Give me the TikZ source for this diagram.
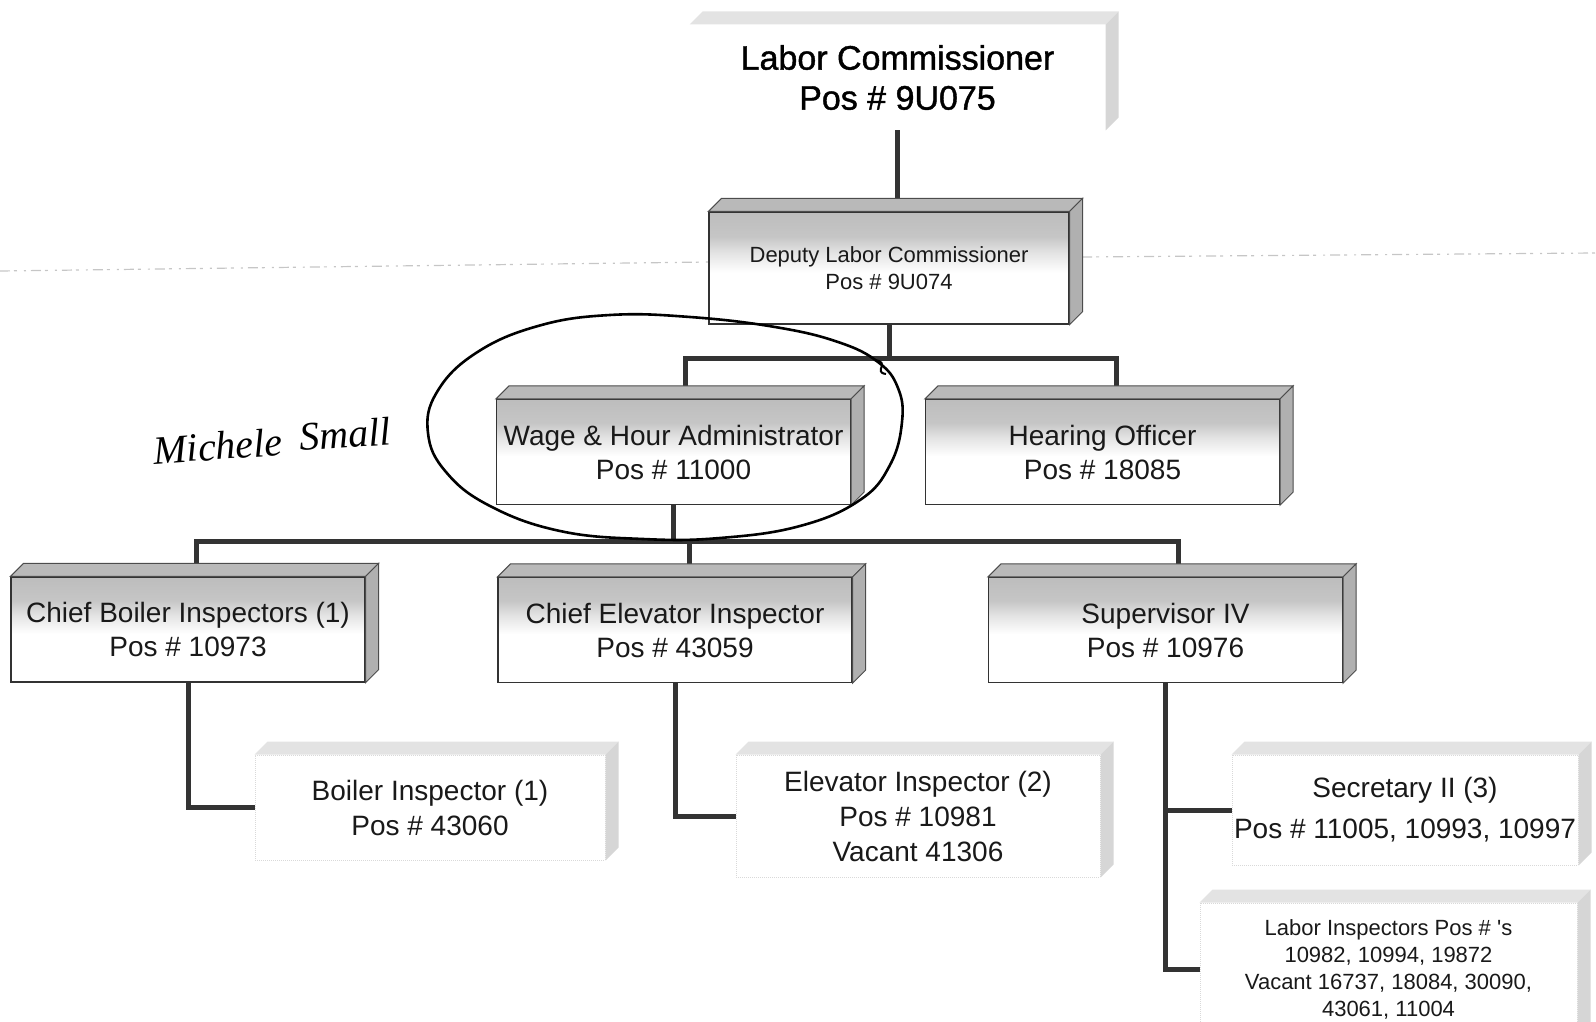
\documentclass[tikz,border=0pt]{standalone}
\usepackage{fontspec}
\setmainfont{Liberation Sans}
\newfontfamily\heavyfont{Liberation Sans}[FakeBold=1.2]
\newfontfamily\handfont{Liberation Serif}
\usetikzlibrary{calc}
\pgfdeclarelayer{bg}
\pgfsetlayers{bg,main}
\pgfdeclareverticalshading{frontshade}{100bp}{color(0bp)=(white); color(25bp)=(white); color(48bp)=(white); color(57bp)=(gray!22); color(64bp)=(gray!45); color(75bp)=(gray!52); color(100bp)=(gray!52)}
\newcommand{\deepfaces}[3]{%
  \filldraw[fill=#2, draw=black!70, line width=1pt] (#1.north west) -- ++(13,13) -- ($(#1.north east)+(13,13)$) -- (#1.north east) -- cycle;
  \filldraw[fill=#3, draw=black!70, line width=1pt] (#1.north east) -- ++(13,13) -- ($(#1.south east)+(13,13)$) -- (#1.south east) -- cycle;}
\newcommand{\palefaces}[1]{%
  \fill[gray!22] (#1.north west) -- ++(13,13) -- ($(#1.north east)+(13,13)$) -- (#1.north east) -- cycle;
  \fill[gray!32] (#1.north east) -- ++(13,13) -- ($(#1.south east)+(13,13)$) -- (#1.south east) -- cycle;}
\begin{document}
\begin{tikzpicture}[x=1pt,y=1pt,
  conn/.style={line width=5pt, draw=black!80},
  dbox/.style={draw=black!80, line width=1.2pt, shade, shading=frontshade, align=center, inner sep=0pt,
     minimum width=354pt, minimum height=105pt, text=black!90, font=\fontsize{28}{34}\selectfont},
  pbox/.style={draw=gray!30, densely dotted, line width=1pt, fill=white, align=center, inner sep=0pt,
     text=black!90, font=\fontsize{28}{35}\selectfont},
  halo/.style={line width=2.6pt, draw=black},
  handtext/.style={rotate=4, inner sep=0pt, font=\handfont\itshape\fontsize{40}{40}\selectfont, text=black}]
\useasboundingbox (0,0) rectangle (1596,-1022);

% pale boxes
\node[pbox, draw=none, minimum width=415pt, minimum height=105pt, text=black, font=\heavyfont\fontsize{34}{40}\selectfont] (lc) at (897.5,-77.5) {Labor Commissioner\\Pos \# 9U075};
\palefaces{lc}
\node[pbox, minimum width=350pt, minimum height=105pt] (boiler) at (430,-807.5) {Boiler Inspector (1)\\Pos \# 43060};
\palefaces{boiler}
\node[pbox, minimum width=364pt, minimum height=122pt] (elev) at (918,-816) {Elevator Inspector (2)\\Pos \# 10981\\Vacant 41306};
\palefaces{elev}
\node[pbox, minimum width=346pt, minimum height=110pt] (sec) at (1405,-810) {Secretary II (3)\\[6pt]Pos \# 11005, 10993, 10997};
\palefaces{sec}
\node[pbox, minimum width=377pt, minimum height=132pt, font=\fontsize{22}{27}\selectfont] (li) at (1388.5,-969) {Labor Inspectors Pos \# \textquotesingle s\\10982, 10994, 19872\\Vacant 16737, 18084, 30090,\\43061, 11004};
\palefaces{li}

% dark 3D boxes
\node[dbox, minimum width=360pt, minimum height=112pt, font=\fontsize{22}{27}\selectfont] (dep) at (889,-268) {Deputy Labor Commissioner\\Pos \# 9U074};
\deepfaces{dep}{gray!55}{gray!62}
\node[dbox] (wage) at (673.5,-452) {Wage \& Hour Administrator\\Pos \# 11000};
\deepfaces{wage}{gray!55}{gray!62}
\node[dbox] (hear) at (1102.5,-452) {Hearing Officer\\Pos \# 18085};
\deepfaces{hear}{gray!55}{gray!62}
\node[dbox] (cbi) at (188,-629.5) {Chief Boiler Inspectors (1)\\Pos \# 10973};
\deepfaces{cbi}{gray!55}{gray!62}
\node[dbox] (cei) at (675,-630) {Chief Elevator Inspector\\Pos \# 43059};
\deepfaces{cei}{gray!55}{gray!62}
\node[dbox] (sup) at (1165.5,-630) {Supervisor IV\\Pos \# 10976};
\deepfaces{sup}{gray!55}{gray!62}

% connection points on the top faces
\coordinate (wageT) at ($(wage.north)+(12,13)$);
\coordinate (hearT) at ($(hear.north)+(14,13)$);
\coordinate (cbiT) at ($(cbi.north)+(8,13)$);
\coordinate (ceiT) at ($(cei.north)+(14,13)$);
\coordinate (supT) at ($(sup.north)+(13,13)$);
\coordinate (j1) at ($(dep.south)+(0,-34)$);
\coordinate (j2) at ($(wage.south)+(0,-36)$);

\begin{pgfonlayer}{bg}
  \draw[gray!45, line width=1.2pt, dash pattern=on 10pt off 4pt on 3pt off 7pt on 2pt off 5pt] (0,-271) -- (709,-262);
  \draw[gray!45, line width=1.2pt, dash pattern=on 10pt off 4pt on 3pt off 7pt on 2pt off 5pt] (1082,-257) -- (1596,-253);
  \draw[conn] (lc.south) -- (lc.south |- dep.north);
  \draw[conn] (dep.south) -- (j1);
  \draw[conn] (wageT) |- (j1) -| (hearT);
  \draw[conn] (wage.south) -- (j2);
  \draw[conn] (cbiT) |- (j2) -| (supT);
  \draw[conn] (ceiT) -- (ceiT |- j2);
  \draw[conn] (cbi.south) |- (boiler.west);
  \draw[conn] (cei.south) |- (elev.west);
  \draw[conn] (sup.south) |- (sec.west);
  \draw[conn] (sup.south) |- (li.west);
\end{pgfonlayer}

% hand-drawn circle and signature
\draw[halo] plot[smooth cycle, tension=0.7] coordinates {(878,-362) (898,-388) (902,-422) (890,-465) (860,-500) (800,-526) (720,-538) (643,-539) (560,-531) (490,-506) (446,-472) (428,-433) (437,-392) (476,-353) (538,-326) (610,-315) (690,-317) (775,-327) (838,-342)};
\draw[line width=2pt] (874,-360) .. controls (892,-362) and (872,-372) .. (886,-374);
\node[handtext] (sig1) at (218,-446) {Michele};
\node[handtext] (sig2) at (345,-434) {Small};
\end{tikzpicture}
\end{document}
